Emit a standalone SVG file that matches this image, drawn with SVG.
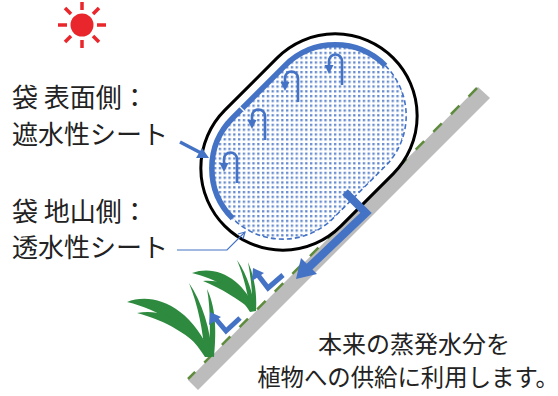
<svg xmlns="http://www.w3.org/2000/svg" width="558" height="396" viewBox="0 0 558 396">
  <style>
    .lbl { font-family: "Noto Sans CJK JP", "Noto Sans", sans-serif; fill: #222; }
    .blue { stroke: #4472C4; fill: none; }
    .leaf { fill: #2d8a3e; }
    .ray { stroke: #e8262b; stroke-width: 3.5; stroke-linecap: butt; }
  </style>
  <defs>
    <!-- dotted fill of the water-holding core -->
    <pattern id="dots" patternUnits="userSpaceOnUse" width="4.8" height="4.8" patternTransform="rotate(45)">
      <rect x="1" y="1" width="2.3" height="2.3" fill="#4472C4" fill-opacity="0.85"/>
    </pattern>
    <!-- U-turn arrow used inside the bag -->
    <g id="hook">
      <path d="M0 0 V-24 A6.5 6.5 0 0 0 -13 -24 V-19" fill="none" stroke="#4472C4" stroke-width="2.6"/>
      <polygon points="-13,-11 -17.5,-20 -8.5,-20" fill="#4472C4"/>
    </g>
  </defs>

  <!-- sun -->
  <g id="sun">
    <circle cx="82" cy="25" r="11.5" fill="#e8262b"/>
    <g transform="translate(82 25)">
      <line class="ray" x1="0" y1="-15" x2="0" y2="-23"/>
      <line class="ray" x1="0" y1="15" x2="0" y2="23"/>
      <line class="ray" x1="-15" y1="0" x2="-24" y2="0"/>
      <line class="ray" x1="15" y1="0" x2="24" y2="0"/>
      <line class="ray" x1="-11" y1="-11" x2="-17" y2="-17"/>
      <line class="ray" x1="11" y1="-11" x2="17" y2="-17"/>
      <line class="ray" x1="-11" y1="11" x2="-17" y2="17"/>
      <line class="ray" x1="11" y1="11" x2="17" y2="17"/>
    </g>
  </g>

  <!-- labels -->
  <g id="label-top">
    <text class="lbl" x="12" y="107" font-size="26">袋 表面側：</text>
    <text class="lbl" x="12" y="144" font-size="26">遮水性シート</text>
  </g>
  <g id="label-bottom">
    <text class="lbl" x="12" y="221" font-size="26">袋 地山側：</text>
    <text class="lbl" x="12" y="257" font-size="26">透水性シート</text>
  </g>
  <g id="note">
    <text class="lbl" x="414" y="353" font-size="24" text-anchor="middle">本来の蒸発水分を</text>
    <text class="lbl" x="408" y="386" font-size="23.4" text-anchor="middle">植物への供給に利用します。</text>
  </g>

  <!-- slope -->
  <g id="slope">
    <polygon points="478,87 490,98 198,390 188,380" fill="#bcbcbc"/>
    <line x1="477" y1="88" x2="188" y2="379" stroke="#5e8c3c" stroke-width="2.5" stroke-dasharray="12 13"/>
  </g>

  <!-- plants -->
  <g id="plant-left">
    <path class="leaf" d="M127,302 C152,292 190,304 212,356 L205,357 C186,327 160,310 127,302 Z"/>
    <path class="leaf" d="M137,313 C166,308 194,324 209,357 C190,334 166,321 137,313 Z"/>
    <path class="leaf" d="M189,283 C202,302 211,330 212,357 L205,357 C203,330 198,305 189,283 Z"/>
    <path class="leaf" d="M207,289 C217,310 216,336 214,357 L209,356 C210,335 211,311 207,289 Z"/>
  </g>
  <g id="plant-right">
    <path class="leaf" d="M192,273 C217,264 244,280 256,311 L250,312 C237,290 216,279 192,273 Z"/>
    <path class="leaf" d="M203,281 C227,279 243,293 253,311 C237,298 222,289 203,281 Z"/>
    <path class="leaf" d="M237,260 C248,276 253,294 255,311 L250,311 C248,294 244,277 237,260 Z"/>
    <path class="leaf" d="M248,262 C255,278 257,295 256,311 L252,311 C253,295 251,279 248,262 Z"/>
  </g>

  <!-- bag -->
  <g id="bag" transform="translate(309 142) rotate(-45)">
    <rect x="-119" y="-82" width="238" height="164" rx="82" fill="#fff" stroke="#000" stroke-width="3"/>
    <rect x="-108" y="-71" width="216" height="142" rx="71" fill="url(#dots)"/>
    <!-- permeable side: dashed -->
    <path class="blue" d="M108 0 A71 71 0 0 1 37 71 L-37 71 A71 71 0 0 1 -108 0" stroke-width="1.6" stroke-dasharray="5 3"/>
    <!-- impermeable side: solid, with a seam -->
    <path class="blue" d="M-108 0 A71 71 0 0 1 -37 -71 L37 -71 A71 71 0 0 1 108 0" stroke-width="5.5"/>
    <line x1="-24" y1="-76" x2="-24" y2="-66" stroke="#fff" stroke-width="1.3"/>
  </g>

  <!-- water circulation inside the bag -->
  <g id="circulation">
    <use href="#hook" x="237" y="183"/>
    <use href="#hook" x="265" y="140"/>
    <use href="#hook" x="298" y="102"/>
    <use href="#hook" x="342" y="85"/>
  </g>

  <!-- connectors -->
  <g id="connectors">
    <!-- pointer to the surface sheet -->
    <line x1="180" y1="142" x2="201" y2="153" stroke="#4472C4" stroke-width="3.5"/>
    <polygon points="209,158 196,158 202,148" fill="#4472C4"/>
    <!-- leader to the permeable sheet -->
    <polyline points="177,250 227,250 245,232" fill="none" stroke="#4472C4" stroke-width="1.2"/>
    <polyline points="238,234 245,232 243,239" fill="none" stroke="#4472C4" stroke-width="1.2"/>
    <!-- drainage along the slope -->
    <polyline points="345,192 366,213 306,270" fill="none" stroke="#4472C4" stroke-width="8" stroke-linejoin="miter"/>
    <polygon points="296,279 301,258 317,274" fill="#4472C4"/>
    <!-- supply to the plants -->
    <polyline points="283,275 268,288 258,275" fill="none" stroke="#4472C4" stroke-width="5"/>
    <polygon points="253,268 252,281 264,273" fill="#4472C4"/>
    <polyline points="240,318 226,331 215,318" fill="none" stroke="#4472C4" stroke-width="5"/>
    <polygon points="210,312 209,325 221,317" fill="#4472C4"/>
  </g>
</svg>
